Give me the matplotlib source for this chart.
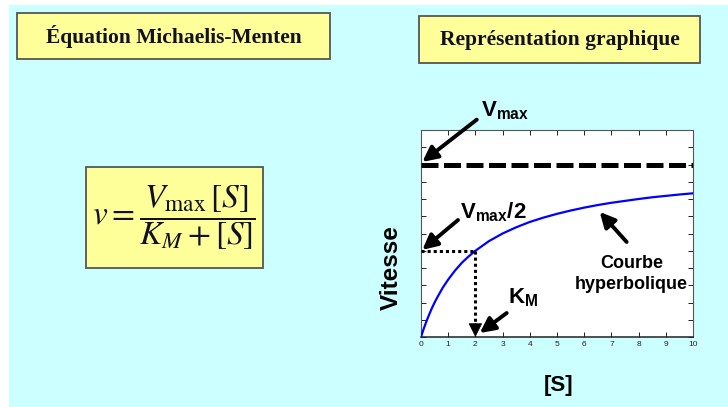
import numpy as np
import matplotlib
matplotlib.use("Agg")
import matplotlib.pyplot as plt
from matplotlib.patches import Rectangle

plt.rcParams['font.family'] = ['Liberation Sans', 'DejaVu Sans']
plt.rcParams['mathtext.fontset'] = 'custom'
plt.rcParams['mathtext.rm'] = 'Liberation Sans:bold'
plt.rcParams['mathtext.it'] = 'Liberation Sans:bold'
plt.rcParams['mathtext.bf'] = 'Liberation Sans:bold'

# reaction rate vs substrate concentration
substrate = [0, 0.05, 0.1, 0.2, 0.3, 0.4, 0.5, 0.6, 0.8, 1, 1.25, 1.5, 1.75,
             2, 2.5, 3, 3.5, 4, 4.5, 5, 5.5, 6, 6.5, 7, 7.5, 8, 8.5, 9, 9.5, 10]
rate = [0, 0.024, 0.048, 0.091, 0.13, 0.167, 0.2, 0.23, 0.286, 0.333, 0.385,
        0.43, 0.467, 0.5, 0.556, 0.6, 0.636, 0.667, 0.692, 0.714, 0.733, 0.75,
        0.765, 0.778, 0.789, 0.8, 0.81, 0.818, 0.826, 0.833]
vmax = 1.0
km = 2.0
x_ticks = list(range(0, 11))

W, H = 728, 407
fig = plt.figure(figsize=(W / 100, H / 100), dpi=100)
fig.patch.set_facecolor('white')


def box(x0, y0, x1, y1, color, edge=None):
    # pixel box (top-left origin) -> figure fraction rectangle
    r = Rectangle((x0 / W, 1 - y1 / H), (x1 - x0) / W, (y1 - y0) / H,
                  transform=fig.transFigure, facecolor=color,
                  edgecolor=edge if edge else 'none', lw=1.3, zorder=-2)
    fig.patches.append(r)


box(9, 5, 728, 407, '#CCFFFF')
box(17, 13, 330, 59, '#FFFF99', '#555555')
box(419, 16, 700, 63, '#FFFF99', '#555555')
box(86, 167, 263, 268, '#FFFF99', '#555555')

fig.text(173.5 / W, 1 - 37 / H, 'Équation Michaelis-Menten', family='Liberation Serif',
         weight='bold', fontsize=15.5, ha='center', va='center', color='#111122')
fig.text(559.5 / W, 1 - 40 / H, 'Représentation graphique', family='Liberation Serif',
         weight='bold', fontsize=15.5, ha='center', va='center', color='#111122')
fig.text(174 / W, 1 - 218 / H, r'$v=\dfrac{V_{\max}\,[S]}{K_M+[S]}$',
         math_fontfamily='stix', fontsize=24, ha='center', va='center', color='#111122')

ax = fig.add_axes([421 / W, (H - 337) / H, 272 / W, 207 / H])
ax.set_zorder(1)
ax.set_facecolor('white')
ax.set_xlim(0, 10)
ax.set_ylim(0, 1.2)
ax.set_xticks(x_ticks)
ax.set_yticks(np.arange(0, 1.21, 0.1))
ax.set_yticklabels([])
ax.tick_params(direction='in', length=3.5, width=0.7, colors='#222222',
               top=True, right=True, labelsize=6, pad=3)
for sp in ax.spines.values():
    sp.set_color('#555555')
    sp.set_linewidth(0.8)
ax.spines['bottom'].set_color('#222222')
ax.spines['bottom'].set_linewidth(1.1)

ax.plot(substrate, rate, color='#0000FF', lw=1.6, zorder=3)
ax.plot([0, 10], [vmax, vmax], color='black', lw=3.6, dashes=(3.4, 1.1),
        solid_capstyle='butt', zorder=3)

# dotted guides to Vmax/2 and Km
ax.plot([0, km], [vmax / 2, vmax / 2], color='black', lw=2.2, dashes=(1, 1), zorder=4)
ax.plot([km, km], [vmax / 2, 0.07], color='black', lw=2.2, dashes=(1, 1), zorder=4)
ax.annotate('', xy=(km, 0.0), xytext=(km, 0.08), annotation_clip=False,
            arrowprops=dict(arrowstyle='-|>,head_length=0.9,head_width=0.45',
                            color='black', lw=0.5, mutation_scale=10,
                            shrinkA=0, shrinkB=0))

arrow = dict(arrowstyle='-|>,head_length=0.9,head_width=0.45', color='black',
             lw=2.8, mutation_scale=10, shrinkA=0, shrinkB=0)
ax.annotate('', xy=(0.05, 1.015), xytext=(2.05, 1.26), arrowprops=arrow,
            annotation_clip=False)
ax.annotate('', xy=(0.05, 0.505), xytext=(1.36, 0.678), arrowprops=arrow,
            annotation_clip=False)
ax.annotate('', xy=(2.16, 0.023), xytext=(3.15, 0.139), arrowprops=arrow,
            annotation_clip=False)
ax.annotate('', xy=(6.57, 0.725), xytext=(7.56, 0.551), arrowprops=arrow,
            annotation_clip=False)

ax.text(2.2, 1.31, r'V$_{\mathregular{max}}$', fontsize=16, weight='bold',
        ha='left', va='center', clip_on=False)
ax.text(1.43, 0.725, r'V$_{\mathregular{max}}$/2', fontsize=16, weight='bold',
        ha='left', va='center', clip_on=False)
ax.text(3.19, 0.226, r'K$_{\mathregular{M}}$', fontsize=16, weight='bold',
        ha='left', va='center', clip_on=False)
ax.text(7.74, 0.365, 'Courbe\nhyperbolique', fontsize=13, weight='bold',
        ha='center', va='center', linespacing=1.3, clip_on=False)

fig.text(391 / W, 1 - 268 / H, 'Vitesse', fontsize=17.5, weight='bold',
         rotation=90, ha='center', va='center')
fig.text(559 / W, 1 - 385 / H, '[S]', fontsize=16, weight='bold',
         ha='center', va='center')

fig.savefig('out.png', dpi=100)
